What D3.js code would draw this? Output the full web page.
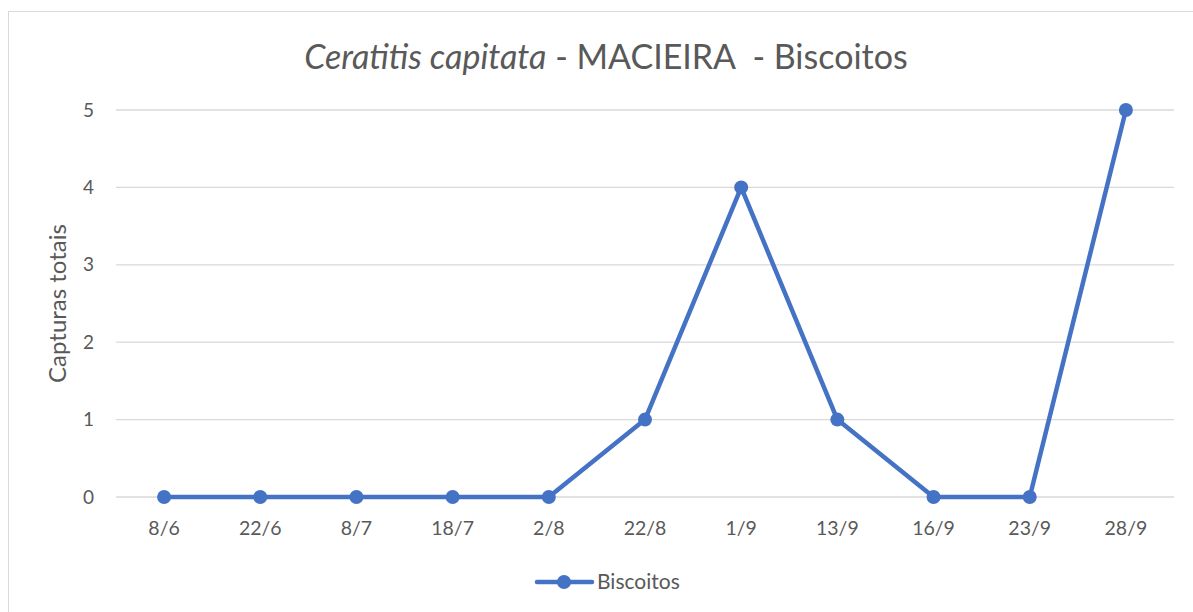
<!DOCTYPE html>
<html>
<head>
<meta charset="utf-8">
<script src="https://cdn.jsdelivr.net/npm/d3@7"></script>
<style>
  body { margin: 0; background: #fff; }
  text { font-family: Lato, "Open Sans", sans-serif; }
</style>
</head>
<body>
<div id="chart"></div>
<script>
const dates = ['8/6', '22/6', '8/7', '18/7', '2/8', '22/8', '1/9', '13/9', '16/9', '23/9', '28/9']
const capturas = [0, 0, 0, 0, 0, 1, 4, 1, 0, 0, 5]
const yTicks = [0, 1, 2, 3, 4, 5]
const seriesName = 'Biscoitos'

const w = 1193, h = 612
const plotLeft = 116, plotRight = 1174, plotTop = 110, plotBottom = 497
const blue = '#4472C4'
const grey = '#595959'

const svg = d3.select('#chart').append('svg')
  .attr('width', w)
  .attr('height', h)

// chart area border
svg.append('rect')
  .attr('x', 8.5).attr('y', 11.5)
  .attr('width', w).attr('height', h)
  .attr('fill', 'white')
  .attr('stroke', '#d9d9d9')

const x = d3.scalePoint()
  .domain(dates)
  .range([plotLeft, plotRight])
  .padding(0.5)

const y = d3.scaleLinear()
  .domain([0, 5])
  .range([plotBottom, plotTop])

// gridlines
svg.append('g')
  .selectAll('line')
  .data(yTicks)
  .enter()
  .append('line')
  .attr('x1', plotLeft).attr('x2', plotRight)
  .attr('y1', d => y(d)).attr('y2', d => y(d))
  .attr('stroke', '#d9d9d9')
  .attr('stroke-width', 1.3)

// y tick labels
svg.append('g')
  .selectAll('text')
  .data(yTicks)
  .enter()
  .append('text')
  .attr('x', 94)
  .attr('y', d => y(d))
  .attr('dy', '0.35em')
  .attr('text-anchor', 'end')
  .attr('font-size', '19px')
  .attr('fill', grey)
  .text(d => d)

// x tick labels
svg.append('g')
  .selectAll('text')
  .data(dates)
  .enter()
  .append('text')
  .attr('x', d => x(d))
  .attr('y', 535)
  .attr('text-anchor', 'middle')
  .attr('font-size', '19.5px')
  .attr('fill', grey)
  .text(d => d)

// y axis title
svg.append('text')
  .attr('transform', `translate(66,${(plotTop + plotBottom) / 2}) rotate(-90)`)
  .attr('text-anchor', 'middle')
  .attr('font-size', '24px')
  .attr('fill', grey)
  .text('Capturas totais')

// title
const title = svg.append('text')
  .attr('x', 606)
  .attr('y', 69)
  .attr('text-anchor', 'middle')
  .attr('font-size', '34px')
  .attr('fill', grey)
title.append('tspan').attr('font-style', 'italic').text('Ceratitis capitata')
title.append('tspan').attr('xml:space', 'preserve').text(' - MACIEIRA  - Biscoitos')

// series
const line = d3.line()
  .x((d, i) => x(dates[i]))
  .y(d => y(d))

svg.append('path')
  .datum(capturas)
  .attr('d', line)
  .attr('fill', 'none')
  .attr('stroke', blue)
  .attr('stroke-width', 4.5)
  .attr('stroke-linejoin', 'round')

svg.append('g')
  .selectAll('circle')
  .data(capturas)
  .enter()
  .append('circle')
  .attr('cx', (d, i) => x(dates[i]))
  .attr('cy', d => y(d))
  .attr('r', 7)
  .attr('fill', blue)

// legend
const lg = svg.append('g').attr('transform', 'translate(537,582)')
lg.append('line')
  .attr('x1', 0).attr('x2', 55)
  .attr('stroke', blue).attr('stroke-width', 4.5)
  .attr('stroke-linecap', 'round')
lg.append('circle').attr('cx', 27).attr('r', 7).attr('fill', blue)
lg.append('text')
  .attr('x', 60).attr('dy', '0.35em')
  .attr('font-size', '21px')
  .attr('fill', grey)
  .text(seriesName)
</script>
</body>
</html>
